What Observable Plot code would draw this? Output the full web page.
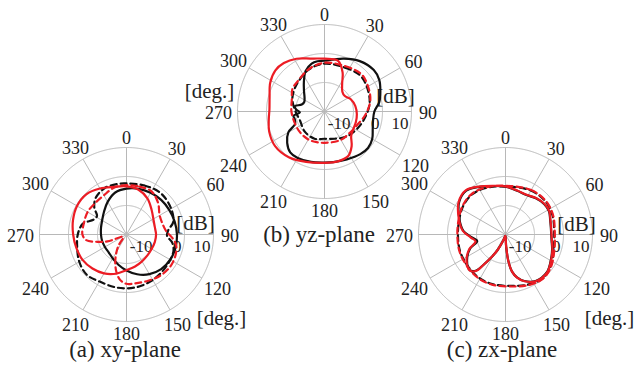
<!DOCTYPE html>
<html><head><meta charset="utf-8">
<script src="https://cdn.jsdelivr.net/npm/d3@7"></script>
<script src="https://cdn.jsdelivr.net/npm/@observablehq/plot@0.6"></script>
<style>
html,body{margin:0;padding:0;background:#fff;}
#chart{position:relative;width:638px;height:371px;overflow:hidden;background:#fff;font-family:'Liberation Serif',serif;}
.panel{position:absolute;width:260px;height:260px;}
.panel svg{background:transparent !important;overflow:visible !important;max-width:none !important;}
.cap{position:absolute;font-family:'Liberation Serif',serif;font-size:23px;color:#222;transform:translate(-50%,-50%);white-space:nowrap;line-height:1;}
</style></head><body>
<div id="chart"></div>
<script>
// ---- tick labels ----
const angleTicks = [0, 30, 60, 90, 120, 150, 180, 210, 240, 270, 300, 330];
const angleLabels = ["0", "30", "60", "90", "120", "150", "180", "210", "240", "270", "300", "330"];
const ringValues = [-10, 0, 10];
const ringLabels = ["-10", "0", "10"];
const captions = ["(a) xy-plane", "(b) yz-plane", "(c) zx-plane"];

// ---- (a) xy-plane : [angle deg, level dB] ----
const aBlackSolid = [[0,-4.2],[15,-3.7],[30,-3.4],[45,-3.1],[60,-3.0],[75,-2.8],[90,-2.6],[105,-2.5],[120,-2.6],[135,-3.1],[150,-4.2],[165,-5.8],[180,-7.6],[195,-9.2],[210,-10.5],[225,-11.3],[240,-11.4],[255,-11.3],[270,-11.2],[285,-10.9],[300,-10.3],[315,-9.0],[330,-7.0],[345,-5.0]];
const aBlackDashed = [[0,-2.4],[20,-2.0],[40,-1.5],[60,-2.2],[75,-3.3],[84,-5.5],[92,-6.0],[100,-4.0],[110,-2.8],[130,-2.4],[150,-1.9],[170,-1.5],[190,-1.4],[210,-1.3],[225,-0.5],[240,-1.2],[255,-2.4],[270,-3.2],[284,-4.5],[294,-7.5],[302,-8.0],[310,-5.5],[320,-3.5],[335,-2.3],[350,-2.3]];
const aRedSolid = [[0,-3.4],[15,-4.0],[30,-5.6],[45,-7.8],[60,-9.3],[75,-9.9],[90,-9.8],[105,-9.9],[120,-10.0],[135,-9.8],[150,-9.3],[165,-8.6],[180,-7.7],[195,-6.0],[210,-4.5],[225,-3.4],[240,-2.5],[255,-2.1],[270,-1.6],[285,-0.9],[300,-0.3],[315,-0.4],[330,-1.7],[345,-3.0]];
const aRedDashed = [[0,-3.0],[15,-2.9],[30,-2.8],[45,-4.6],[60,-6.8],[75,-7.0],[85,-6.3],[95,-4.0],[102,-2.5],[112,-1.7],[125,-1.3],[140,-1.6],[155,-2.4],[170,-2.9],[180,-3.0],[188,-4.2],[196,-7.0],[205,-11.0],[215,-15.0],[228,-18.5],[240,-18.5],[250,-13.0],[256,-9.6],[262,-6.0],[270,-4.8],[285,-4.8],[300,-4.5],[315,-4.7],[330,-4.4],[345,-3.3]];

// ---- (b) yz-plane ----
const bBlackSolid = [[0,-2.5],[10,-1.8],[20,-0.6],[35,1.2],[50,2.2],[60,1.8],[70,0.5],[80,-0.8],[90,-2.8],[100,-3.0],[110,-2.3],[120,-1.0],[130,-0.4],[140,-0.8],[155,-1.8],[170,-2.3],[180,-2.4],[195,-2.0],[210,-1.5],[220,-1.6],[230,-3.2],[240,-5.6],[247,-9.0],[255,-9.4],[262,-9.2],[268,-11.5],[274,-10.2],[280,-9.6],[287,-11.8],[295,-12.3],[305,-11.6],[315,-10.0],[325,-7.6],[335,-4.6],[345,-2.9],[352,-2.5]];
const bBlackDashed = [[0,-3.5],[25,-3.3],[45,-2.5],[62,-3.2],[80,-4.2],[100,-6.0],[120,-7.4],[140,-8.6],[160,-10.0],[180,-10.6],[200,-10.0],[225,-10.3],[250,-11.0],[270,-10.0],[290,-8.2],[305,-7.2],[320,-6.2],[340,-4.5]];
const bRedSolid = [[0,-1.8],[15,-1.9],[25,-5.2],[32,-8.5],[42,-10.8],[52,-11.2],[65,-10.0],[80,-9.2],[95,-8.8],[108,-8.6],[120,-8.4],[132,-7.6],[142,-4.8],[152,-2.6],[165,-2.2],[180,-2.3],[200,-1.5],[218,0.0],[235,0.8],[250,0.3],[262,-0.6],[272,-1.0],[285,-0.4],[298,1.2],[310,2.1],[320,1.8],[332,0.6],[345,-1.1]];
const bRedDashed = [[0,-3.2],[25,-2.8],[45,-1.9],[62,-2.8],[77,-3.8],[95,-5.9],[112,-7.8],[130,-8.6],[150,-8.7],[180,-9.2],[205,-8.9],[225,-8.9],[245,-9.0],[270,-8.6],[290,-8.0],[305,-6.5],[320,-6.0],[340,-4.4]];

// ---- (c) zx-plane ----
const cBlackSolid = [[0,-3.5],[15,-4.4],[28,-4.6],[40,-3.7],[52,-3.0],[62,-3.0],[72,-3.8],[82,-4.2],[97,-4.0],[108,-3.1],[118,-2.2],[132,-0.7],[147,-0.9],[158,-2.7],[165,-4.7],[170,-7.0],[174,-11.0],[177,-16.0],[185,-19.5],[200,-18.0],[207,-14.0],[212,-10.5],[216,-7.0],[219,-4.0],[225,-2.6],[236,-4.0],[248,-6.8],[257,-10.0],[265,-8.4],[275,-5.4],[290,-3.0],[305,-0.5],[318,0.3],[331,-1.2],[345,-2.7]];
const cBlackDashed = [[0,-3.4],[30,-2.5],[50,-2.1],[68,-2.5],[90,-3.2],[108,-2.5],[126,-0.9],[140,-0.2],[155,-1.0],[172,-2.1],[195,-2.3],[213,-2.5],[233,-3.1],[250,-3.3],[268,-3.6],[286,-3.3],[304,-2.4],[320,-2.0],[337,-2.6]];
const cRedSolid = [[0,-3.4],[15,-4.3],[28,-4.5],[40,-3.6],[52,-2.9],[62,-2.9],[72,-3.7],[82,-4.1],[97,-3.9],[108,-3.0],[118,-2.1],[132,-0.6],[147,-0.8],[158,-2.6],[165,-4.6],[170,-7.0],[174,-11.0],[177,-16.0],[185,-19.5],[200,-18.0],[207,-14.0],[212,-10.5],[216,-7.0],[219,-3.8],[225,-2.5],[236,-3.8],[248,-6.5],[257,-9.4],[265,-8.0],[275,-5.2],[290,-2.8],[305,-0.3],[318,0.5],[331,-1.1],[345,-2.6]];
const cRedDashed = [[0,-3.2],[30,-2.3],[50,-1.9],[68,-2.3],[90,-3.0],[108,-2.3],[126,-0.7],[140,0.0],[155,-0.8],[172,-1.9],[195,-2.1],[213,-2.3],[233,-2.9],[250,-3.1],[268,-3.4],[286,-3.1],[304,-2.2],[320,-1.8],[337,-2.4]];

// ---- geometry helpers (radial axis: -20 dB at centre, 10 dB at rim) ----
const DB0 = -20, PXDB = 2.9, K = 0.5, HALF = 130;
const lon = t => 180 - t;
const latDb = v => 90 - (v - DB0) * PXDB * K;
const latPx = px => 90 - px * K;
const BLACK = "#111", RED = "#ec1c24", GRID = "#b8b8b8", TXT = "#222";
const FONT = "Liberation Serif";

const panels = [
  {cx: 126.3, cy: 234.3, capX: 125, capY: 349, dB: [69, -11], deg: [95, 84],
   series: [[aBlackDashed, BLACK, true], [aBlackSolid, BLACK, false], [aRedDashed, RED, true], [aRedSolid, RED, false]]},
  {cx: 324.3, cy: 110.5, capX: 319, capY: 234, dB: [71, -15], deg: [-115, -20],
   series: [[bBlackDashed, BLACK, true], [bBlackSolid, BLACK, false], [bRedDashed, RED, true], [bRedSolid, RED, false]]},
  {cx: 504.7, cy: 234.3, capX: 502, capY: 349, dB: [71, -10], deg: [104, 84],
   series: [[cBlackDashed, BLACK, true], [cBlackSolid, BLACK, false], [cRedDashed, RED, true], [cRedSolid, RED, false]]}
];

const chart = document.getElementById("chart");
const labelR = (t, s) => 98 + 0.3 * (9 * s.length) * Math.abs(Math.sin(t * Math.PI / 180));

panels.forEach((p, i) => {
  const domain = d3.geoCircle().center([0, 90]).radius(HALF * K).precision(0.5)();
  const marks = [
    Plot.geo(ringValues, {geometry: v => d3.geoCircle().center([0, 90]).radius((v - DB0) * PXDB * K).precision(0.5)(), stroke: GRID, strokeWidth: 1, fill: "none"}),
    Plot.link(angleTicks, {x1: t => lon(t), y1: () => 90, x2: t => lon(t), y2: () => latDb(10), stroke: GRID, strokeWidth: 1, curve: "linear"}),
    Plot.text(angleTicks, {x: t => lon(t), y: (t, j) => latPx(labelR(t, angleLabels[j])), text: (t, j) => angleLabels[j], dy: 2, fontSize: 18, fontFamily: FONT, fill: TXT}),
    Plot.text(ringValues, {x: () => lon(90), y: v => latPx((v - DB0) * PXDB - 3), text: (v, j) => ringLabels[j], textAnchor: "end", dy: 12, fontSize: 17, fontFamily: FONT, fill: TXT}),
    Plot.text(["[dB]"], {x: () => 0, y: () => 90, text: d => d, dx: p.dB[0], dy: p.dB[1], fontSize: 21, fontFamily: FONT, fill: TXT}),
    Plot.text(["[deg.]"], {x: () => 0, y: () => 90, text: d => d, dx: p.deg[0], dy: p.deg[1], fontSize: 21, fontFamily: FONT, fill: TXT})
  ];
  p.series.forEach(([data, color, dashed]) => {
    marks.push(Plot.line(data, {x: d => lon(d[0]), y: d => latDb(d[1]), curve: "catmull-rom-closed", stroke: color, strokeWidth: 2.2, strokeDasharray: dashed ? "6,4" : null}));
  });
  const svg = Plot.plot({
    width: 2 * HALF, height: 2 * HALF, margin: 0,
    projection: {type: "azimuthal-equidistant", rotate: [0, -90], domain},
    marks
  });
  const div = document.createElement("div");
  div.className = "panel";
  div.style.left = (p.cx - HALF) + "px";
  div.style.top = (p.cy - HALF) + "px";
  div.appendChild(svg);
  chart.appendChild(div);
  const cap = document.createElement("div");
  cap.className = "cap";
  cap.style.left = p.capX + "px";
  cap.style.top = p.capY + "px";
  cap.textContent = captions[i];
  chart.appendChild(cap);
});
</script>
</body></html>
